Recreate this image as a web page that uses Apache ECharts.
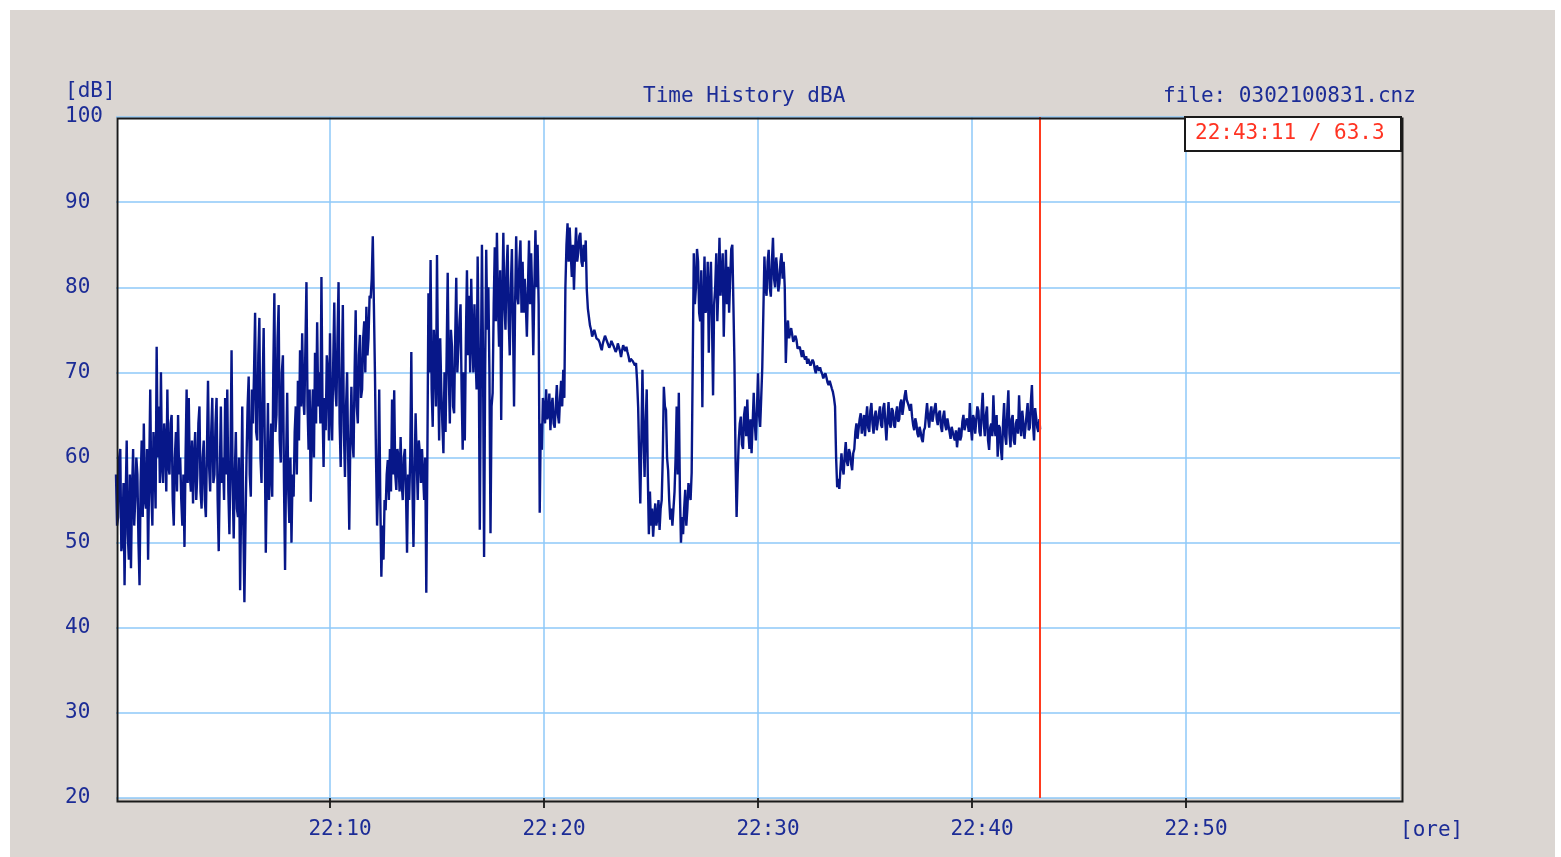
<!DOCTYPE html>
<html>
<head>
<meta charset="utf-8">
<title>Time History dBA</title>
<script src="https://cdn.jsdelivr.net/npm/echarts@6/dist/echarts.min.js"></script>
<style>
  html, body { margin: 0; padding: 0; background: #ffffff; }
  #main { position: absolute; left: 10px; top: 10px; width: 1545px; height: 847px; }
</style>
</head>
<body>
<div id="main"></div>
<script>
// one reading every 3 s (0.05 min) starting at 22:00:00, one row per minute
const stepMin = 0.05;
const levels = [
  58, 52, 53, 60, 61, 49, 50, 57, 45, 55, 62, 51, 48, 58, 47, 56, 61, 52, 55, 60,
  58, 50, 45, 57, 62, 53, 64, 55, 54, 61, 48, 58, 68, 56, 52, 63, 60, 54, 73, 60,
  66, 57, 70, 59, 57, 64, 62, 56, 68, 59, 58, 64, 65, 55, 52, 60, 63, 56, 65, 58,
  60, 55, 52, 58, 49.5, 60, 68, 57, 67, 58, 56, 62, 54.6, 60, 63, 55, 58, 64, 66, 56,
  54, 60, 62, 55, 53, 61, 69, 59, 56, 63, 67, 57, 58, 64, 67, 55, 49, 58, 66, 57,
  60, 55, 67, 58, 68, 56, 51, 60, 72.6, 57, 50.5, 58, 63, 54, 53, 60, 44.4, 55, 66, 52,
  43, 52, 60, 66, 69.5, 58, 55.4, 68, 64, 70, 77, 63, 62, 72, 76.4, 60, 57, 68, 75.2, 62,
  48.8, 58, 66.4, 55, 58, 64, 55.4, 70, 79.3, 63, 65, 74, 77.9, 62, 59.4, 70, 72, 57, 46.8, 60,
  67.6, 56, 52.3, 60, 50, 58, 55.4, 63, 66, 58, 69, 62, 72.6, 66, 74.6, 67, 65, 73, 80.6, 66,
  60.9, 68, 54.8, 64, 68, 60, 72.3, 64, 75.9, 66, 70, 64, 81.2, 66, 58.9, 67, 63.2, 72, 70, 62,
  74.6, 65, 62, 71, 78.2, 68, 66, 74, 80.6, 64, 58.9, 70, 77.9, 63, 57.7, 66, 70, 60, 51.5, 62,
  68.3, 62, 60, 70, 77.3, 66, 64, 72, 74.4, 67, 68, 74, 76, 70, 77.7, 72, 74, 79, 78.7, 81,
  86, 78, 70, 60, 52, 57, 68, 55, 46, 52, 48, 55, 53.8, 58, 59.7, 55, 61, 56, 66.8, 58,
  67.9, 58, 56.2, 61, 60, 56, 62.4, 57, 55, 60, 61, 56, 48.8, 58, 55, 60, 72.4, 57, 49.5, 58,
  65.2, 60, 55, 62, 60.5, 57, 61, 58, 55, 60, 44.1, 60, 79.3, 70, 83.2, 68, 63.6, 75, 72, 66,
  83.8, 70, 62, 74, 68, 64, 60.5, 70, 63, 72, 81.7, 70, 64, 75, 73, 66, 65.2, 74, 81.1, 70,
  70, 76, 78, 68, 60.9, 70, 62, 74, 82, 72, 79, 70, 81, 74, 70, 78, 72, 68, 83.6, 72,
  51.5, 70, 85, 72, 48.3, 70, 84.4, 75, 80, 70, 51.1, 66, 67.6, 78, 84.7, 76, 86.4, 78, 73, 82,
  64.4, 78, 86.4, 78, 75, 82, 85, 76, 72, 80, 84.5, 76, 66, 78, 86, 79, 78, 83, 85.5, 77,
  83, 77, 81, 78, 74.2, 80, 85.5, 78, 84, 79, 72, 80, 86.7, 80, 85, 78, 53.5, 64, 60.9, 67,
  66, 64, 68, 64.5, 65, 67.5, 63.2, 66, 67, 64, 63.5, 66, 68.5, 65, 64, 67, 69, 66, 70.3, 67,
  80, 85, 87.5, 83, 87, 84, 81.2, 85, 79.7, 84, 87, 83, 84, 86, 86.4, 83, 82.4, 85, 83, 85.5,
  79.7, 77.5, 76.5, 75.5, 75, 74.2, 74.6, 75, 74.5, 74, 74.2, 73.8, 73.5, 73, 72.6, 73.4, 73.6, 74.3, 74.2, 73.6,
  73.4, 72.9, 73.2, 73.7, 73.6, 73.1, 73, 72.4, 72.7, 73.4, 73.2, 72.5, 71.8, 72.6, 73.2, 72.8, 72.5, 73, 72.4, 71.9,
  71.2, 71.6, 71.7, 71.3, 71.4, 70.8, 71.1, 69, 65.9, 60, 54.6, 62, 70.3, 63, 57.7, 64, 68, 58, 51, 56,
  52, 54, 50.7, 53, 54.6, 52, 53, 55, 51.5, 54, 55, 60, 68.3, 66, 65.6, 60, 58.5, 55, 52.7, 54,
  52, 54, 56, 60, 66, 58, 67.6, 56, 50, 53, 51, 54, 56.2, 52, 54, 57, 57, 55, 58.2, 58,
  84, 78, 80, 84.5, 83, 77, 76, 82, 65.9, 78, 83.6, 77, 78, 83, 72.3, 80, 83, 76, 67.3, 78,
  80, 84, 76, 80, 85.8, 79, 81.2, 84, 74.2, 80, 84.4, 78, 82.4, 77, 81, 84.5, 85, 78, 71.1, 60,
  53, 58, 62, 64, 64.8, 61.5, 61, 65, 66, 62.5, 66.8, 63, 61, 64.5, 60.5, 64, 67.6, 64, 62, 65.5,
  69.9, 65, 63.6, 67, 70.6, 77, 83.6, 80, 79, 83, 84.4, 80, 78.9, 83, 85.8, 81, 80, 83.5, 82, 79.5,
  80.5, 83, 84, 81, 83, 80, 71.1, 75, 76.1, 74, 74.2, 75.2, 75, 73.6, 73.5, 74.3, 73.8, 72.8, 72.6, 73,
  72.4, 71.8, 72.6, 71.9, 71.5, 71.9, 71, 71.6, 71.8, 70.8, 71, 71.5, 71.2, 70.4, 69.9, 70.8, 71, 70.2, 70.6, 70.1,
  69.8, 69.3, 69.5, 69.9, 69.4, 68.8, 68.5, 69, 68.8, 68.1, 67.7, 67, 66, 60, 56.5, 57.5, 56.3, 58.5, 60.5, 58.8,
  58, 60.2, 61.8, 59.5, 59, 61, 60.5, 59.3, 58.5, 60.5, 61, 63, 64, 62.2, 62, 64.5, 65.2, 62.8, 63, 65,
  62.5, 64.5, 66, 63.5, 63, 65.5, 66.4, 64, 62.8, 64.8, 65.5, 63.2, 63, 65.2, 66, 63.8, 63.5, 65.8, 66.4, 64,
  62, 64.5, 66.5, 64, 63.5, 65.8, 65.5, 63.8, 63.5, 65.2, 66, 64.2, 64.5, 66.4, 66.8, 65, 66, 67.2, 67.9, 66.8,
  67, 66, 65.5, 66.3, 64.8, 63.8, 63.2, 64.6, 64, 62.8, 62.4, 63.6, 63, 62.2, 61.8, 63.2, 63.5, 65, 66.4, 64.6,
  63.5, 65.2, 66, 64.2, 64, 65.8, 66.4, 64.5, 63.8, 65.2, 65.5, 63.6, 63, 64.8, 65.5, 63.8, 63.2, 64.6, 64.5, 63,
  62.2, 63.6, 63.8, 62.4, 62, 63.2, 61.2, 62.6, 63.5, 62, 62.5, 64.2, 65, 63.2, 63, 64.6, 64, 63, 66.4, 63.5,
  62, 65, 64.5, 62.8, 63, 66, 65.5, 63, 62.5, 65.5, 67.6, 64, 62.5, 65, 66, 62, 60.9, 63.5, 64, 62.5,
  67.3, 63.5, 62.5, 65, 60.1, 63.8, 63.5, 61, 59.7, 64, 66.4, 62.5, 61.5, 65.5, 67.9, 62.8, 61.2, 64.5, 65, 62,
  61.5, 64, 64.5, 62.8, 67.3, 64, 62.5, 65.5, 64, 62.2, 62, 65, 66.4, 63.2, 63.5, 66.5, 68.5, 64, 62, 65.8,
  65.6, 63.5, 63, 64.5
];
// cursor read-out (22:43:11 / 63.3)
const cursorMin = 43.183;
const cursorLevel = 63.3;
const cursorLabel = '22:43:11 / 63.3';

const xTicks = [10, 20, 30, 40, 50];
const yTicks = [20, 30, 40, 50, 60, 70, 80, 90, 100];

const points = levels.map((v, i) => [+(i * stepMin).toFixed(2), v]);
points.push([cursorMin, cursorLevel]);

const FONT = '"DejaVu Sans Mono", "Liberation Mono", monospace';
const BLUE = '#1c2c96';
const GRIDBLUE = '#8ec8f8';

const chart = echarts.init(document.getElementById('main'), null, { renderer: 'canvas' });
chart.setOption({
  animation: false,
  backgroundColor: '#dbd6d2',
  grid: {
    left: 106, top: 107, right: 155, bottom: 59,
    show: true, backgroundColor: '#ffffff', borderWidth: 0
  },
  xAxis: {
    type: 'value',
    min: 0, max: 60, interval: 10,
    axisLine: { show: false },
    axisTick: { show: true, length: 10, customValues: xTicks, lineStyle: { color: '#2a2a2a', width: 2 } },
    splitLine: { show: true, lineStyle: { color: GRIDBLUE, width: 1.5 } },
    axisLabel: {
      margin: 21,
      padding: [0, 0, 0, 20],
      customValues: xTicks,
      color: BLUE, fontFamily: FONT, fontSize: 21,
      formatter: v => '22:' + String(v).padStart(2, '0')
    }
  },
  yAxis: {
    type: 'value',
    min: yTicks[0], max: yTicks[yTicks.length - 1], interval: 10,
    axisLine: { show: false },
    axisTick: { show: false },
    splitLine: { show: true, lineStyle: { color: GRIDBLUE, width: 1.5 } },
    axisLabel: { align: 'left', margin: 51, color: BLUE, fontFamily: FONT, fontSize: 21 }
  },
  graphic: [
    { type: 'text', left: 55, top: 71, style: { text: '[dB]', fill: BLUE, font: '21px ' + FONT } },
    { type: 'text', left: 633, top: 76, style: { text: 'Time History dBA', fill: BLUE, font: '21px ' + FONT } },
    { type: 'text', left: 1153, top: 76, style: { text: 'file: 0302100831.cnz', fill: BLUE, font: '21px ' + FONT } },
    { type: 'text', left: 1390, top: 810, style: { text: '[ore]', fill: BLUE, font: '21px ' + FONT } },
    {
      type: 'rect', left: 105, top: 106, z: 100,
      shape: { width: 1285, height: 683 },
      style: { fill: 'none', stroke: '#1a1a1a', lineWidth: 2 }
    },
    {
      type: 'rect', left: 1174, top: 106, z: 101,
      shape: { width: 216, height: 34 },
      style: { fill: '#ffffff', stroke: '#1a1a1a', lineWidth: 2 }
    },
    {
      type: 'text', left: 1185, top: 113, z: 102,
      style: { text: cursorLabel, fill: '#ff3322', font: '21px ' + FONT }
    }
  ],
  series: [{
    type: 'line',
    data: points,
    showSymbol: false,
    lineStyle: { color: '#071789', width: 2.4 },
    markLine: {
      silent: true, symbol: 'none', label: { show: false },
      lineStyle: { color: '#ff3b1f', width: 2, type: 'solid' },
      data: [{ xAxis: cursorMin }]
    }
  }]
});
</script>
</body>
</html>
